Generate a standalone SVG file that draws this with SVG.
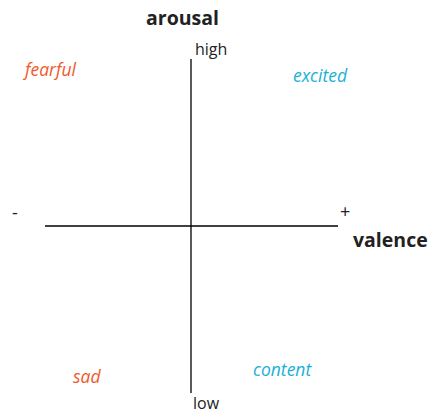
<svg xmlns="http://www.w3.org/2000/svg" width="433" height="414" viewBox="0 0 433 414">
<style>
text{font-family:"Open Sans","Noto Sans",sans-serif;}
.title{font-size:19.5px;font-weight:bold;fill:#222;}
.lbl{font-size:16px;fill:#222;}
.sign{font-size:18px;fill:#222;}
.neg{font-size:17.5px;font-style:italic;fill:#f05a2a;}
.pos{font-size:17.5px;font-style:italic;fill:#1bb0d6;}
.axis{stroke:#000;stroke-width:1.3;fill:none;}
</style>
<rect width="433" height="414" fill="#fff"/>
<g id="connectors">
<line class="axis" x1="191" y1="59" x2="191" y2="393"/>
<line class="axis" x1="45" y1="226" x2="338" y2="226"/>
</g>
<g id="arousal"><text class="title" x="146" y="25">arousal</text></g>
<g id="high"><text class="lbl" x="195" y="55">high</text></g>
<g id="low"><text class="lbl" x="193" y="409">low</text></g>
<g id="minus"><text class="sign" x="12" y="219">-</text></g>
<g id="plus"><text class="sign" x="340" y="218">+</text></g>
<g id="valence"><text class="title" x="353" y="247">valence</text></g>
<g id="fearful"><text class="neg" x="25" y="76">fearful</text></g>
<g id="excited"><text class="pos" x="293" y="82">excited</text></g>
<g id="sad"><text class="neg" x="73" y="383">sad</text></g>
<g id="content"><text class="pos" x="253" y="376">content</text></g>
</svg>
